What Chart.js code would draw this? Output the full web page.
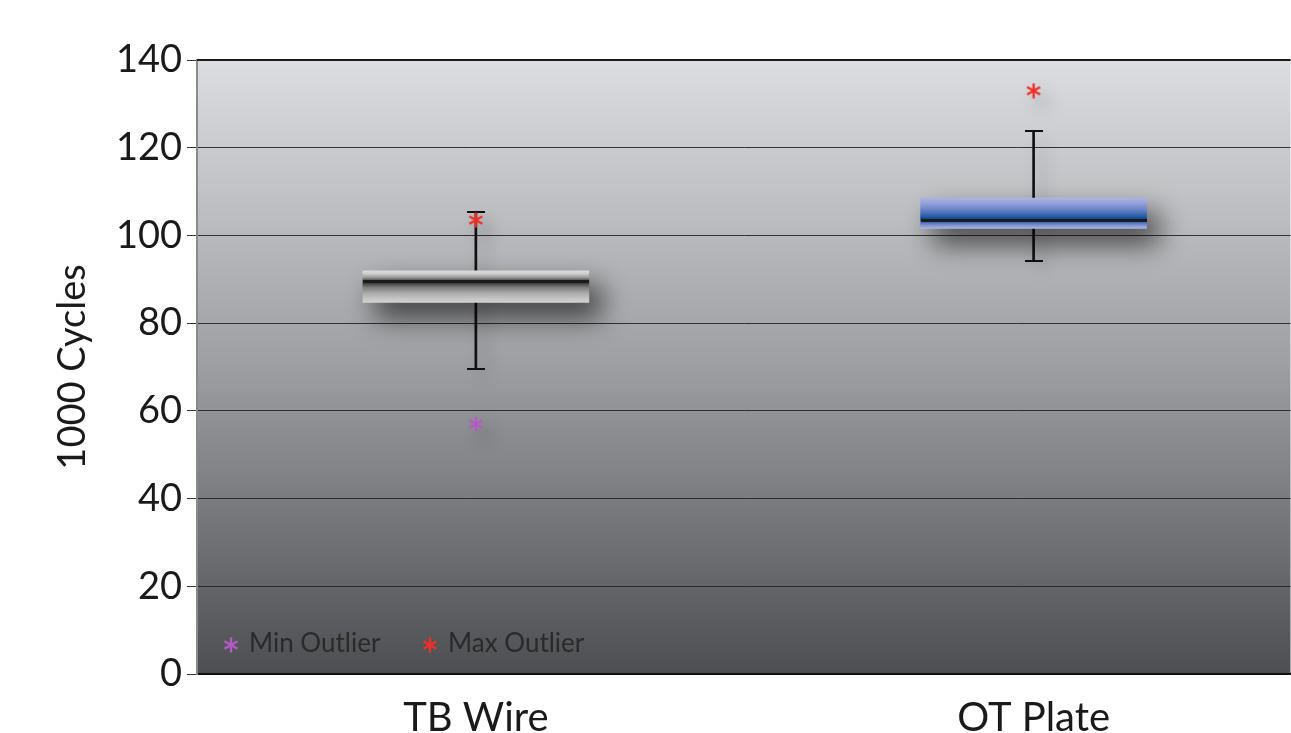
<!DOCTYPE html>
<html>
<head>
<meta charset="utf-8">
<script src="https://cdn.jsdelivr.net/npm/chart.js@4.4.0/dist/chart.umd.min.js"></script>
<style>
  html, body { margin: 0; padding: 0; background: #fff; overflow: hidden; }
  #wrap { position: relative; width: 1291px; height: 733px; }
  .leg { position: absolute; top: 626px; height: 30px; line-height: 30px; font: 26px Lato, sans-serif; color: #2a2a2a; white-space: nowrap; }
  .leg img { width: 16px; height: 16px; vertical-align: -1px; margin-right: 10px; }
</style>
</head>
<body>
<div id="wrap">
  <canvas id="chart" width="1291" height="733"></canvas>
  <div class="leg" id="legMin" style="left:223px"></div>
  <div class="leg" id="legMax" style="left:422px"></div>
</div>
<script>
// дані
const categories = ['TB Wire', 'OT Plate'];
const whiskerLow = [69.5, 94.2];
const q1 = [84.7, 101.6];
const median = [89.4, 103.4];
const q3 = [91.9, 108.5];
const whiskerHigh = [105.3, 123.9];
const minOutliers = [57, null];
const maxOutliers = [103.5, 133];
const yTicks = [0, 20, 40, 60, 80, 100, 120, 140];

// стилі
const boxStops = [
  [[0, '#dadada'], [0.08, '#cfcfcf'], [0.2, '#9c9c9c'], [0.3, '#4e4e4e'], [0.4, '#444'], [0.52, '#7c7c7c'], [0.7, '#aaa'], [0.88, '#c6c6c6'], [1, '#d2d2d2']],
  [[0, '#aab4e3'], [0.2, '#8f9dd7'], [0.45, '#5a78be'], [0.62, '#1d5aa2'], [0.68, '#0e4a94'], [0.78, '#3e64b0'], [0.9, '#8293d2'], [1, '#aab4e3']]
];
const FONT = 'Lato, sans-serif';
const BOX_W = 226;

function makeStar(color) {
  const c = document.createElement('canvas');
  c.width = c.height = 16;
  const g = c.getContext('2d');
  g.strokeStyle = color; g.lineWidth = 2.4;
  g.translate(8, 8);
  for (let k = 0; k < 3; k++) {
    const a = Math.PI / 2 + k * Math.PI / 3;
    g.beginPath();
    g.moveTo(Math.cos(a) * 7.5, Math.sin(a) * 7.5);
    g.lineTo(-Math.cos(a) * 7.5, -Math.sin(a) * 7.5);
    g.stroke();
  }
  return c;
}
// горизонтальна риска (медіана / вуса)
function makeDash(w, h, color) {
  const c = document.createElement('canvas');
  c.width = w; c.height = h;
  const g = c.getContext('2d');
  g.fillStyle = color; g.fillRect(0, 0, w, h);
  return c;
}
const starMin = makeStar('#b45ac4');
const starMax = makeStar('#ee3027');
const medianDash = makeDash(BOX_W, 3, '#1b1b1b');
const capDash = makeDash(18, 2, '#111');

// легенда
document.getElementById('legMin').innerHTML = `<img src="${starMin.toDataURL()}">Min Outlier`;
document.getElementById('legMax').innerHTML = `<img src="${starMax.toDataURL()}">Max Outlier`;

const pts = arr => arr.map((v, i) => ({ x: i, y: v })).filter(p => p.y !== null);

// фон + рамка
const bgPlugin = {
  id: 'bg',
  beforeDraw(chart) {
    const { ctx, chartArea: a } = chart;
    const g = ctx.createLinearGradient(0, a.top, 0, a.bottom);
    g.addColorStop(0, '#dcdde0');
    g.addColorStop(0.5, '#9d9ea1');
    g.addColorStop(1, '#4d4e52');
    ctx.save();
    ctx.fillStyle = g;
    ctx.fillRect(a.left, a.top, a.right - a.left, a.bottom - a.top);
    ctx.restore();
  },
  afterDraw(chart) {
    const { ctx, chartArea: a } = chart;
    ctx.save();
    ctx.strokeStyle = '#1a1a1a'; ctx.lineWidth = 2;
    ctx.beginPath(); ctx.moveTo(a.left, a.top); ctx.lineTo(a.right, a.top); ctx.stroke();
    ctx.restore();
  }
};

// тіні
const shadowPlugin = {
  id: 'shadows',
  beforeDatasetDraw(chart, args) {
    const ctx = chart.ctx;
    const name = args.meta.label;
    if (name === 'box') {
      ctx.save();
      ctx.shadowColor = 'rgba(0,0,0,0.65)'; ctx.shadowBlur = 28; ctx.shadowOffsetX = 12; ctx.shadowOffsetY = 15;
    } else if (name === 'whisker' || name === 'Max Outlier' || name === 'Min Outlier') {
      ctx.save();
      ctx.shadowColor = 'rgba(0,0,0,0.25)'; ctx.shadowBlur = 16; ctx.shadowOffsetX = 8; ctx.shadowOffsetY = 10;
    } else return;
    args.meta._shadowed = true;
  },
  afterDatasetDraw(chart, args) {
    if (args.meta._shadowed) { chart.ctx.restore(); args.meta._shadowed = false; }
  }
};

const pointSet = {
  type: 'line', showLine: false, borderWidth: 0,
  pointRadius: 0.5, pointBorderWidth: 0, pointHoverRadius: 0, pointHoverBorderWidth: 0
};

new Chart(document.getElementById('chart'), {
  type: 'bar',
  data: {
    datasets: [
      { ...pointSet, label: 'Max Outlier', order: 0, data: pts(maxOutliers), pointStyle: starMax },
      { ...pointSet, label: 'Min Outlier', order: 1, data: pts(minOutliers), pointStyle: starMin },
      { ...pointSet, label: 'median', order: 2, data: pts(median), pointStyle: medianDash },
      {
        label: 'box', order: 3, grouped: false, barThickness: BOX_W, borderWidth: 0,
        data: categories.map((c, i) => ({ x: i, y: [q1[i], q3[i]] })),
        backgroundColor: ctx => {
          const chart = ctx.chart;
          if (!chart.chartArea) return '#999';
          const y = chart.scales.y;
          const i = ctx.dataIndex;
          const g = chart.ctx.createLinearGradient(0, y.getPixelForValue(q3[i]), 0, y.getPixelForValue(q1[i]));
          boxStops[i].forEach(s => g.addColorStop(s[0], s[1]));
          return g;
        }
      },
      { ...pointSet, label: 'caps', order: 4, data: pts(whiskerLow).concat(pts(whiskerHigh)), pointStyle: capDash },
      {
        label: 'whisker', order: 5, grouped: false, barThickness: 2, borderWidth: 0,
        data: categories.map((c, i) => ({ x: i, y: [whiskerLow[i], whiskerHigh[i]] })),
        backgroundColor: '#111'
      }
    ]
  },
  options: {
    responsive: false,
    animation: false,
    events: [],
    layout: { padding: { top: 60, left: 0, right: 0, bottom: 0 } },
    plugins: { legend: { display: false }, tooltip: { enabled: false } },
    scales: {
      x: {
        type: 'linear', min: -0.5, max: 1.4606, offset: false,
        afterBuildTicks: s => { s.ticks = categories.map((c, i) => ({ value: i })); },
        afterFit: s => { s.height = 59; },
        grid: { display: false },
        border: { display: true, color: '#111', width: 2 },
        ticks: {
          callback: v => categories[v] || '',
          font: { family: FONT, size: 40 }, color: '#1a1a1a', padding: 12,
          maxRotation: 0
        }
      },
      y: {
        min: 0, max: 140,
        afterBuildTicks: s => { s.ticks = yTicks.map(v => ({ value: v })); },
        afterFit: s => { s.width = 197; },
        grid: { color: 'rgba(35,35,35,0.9)', lineWidth: 1, tickLength: 10, tickColor: '#333', tickWidth: 1 },
        border: { display: true, color: '#8a8a8a', width: 2 },
        ticks: { font: { family: FONT, size: 38 }, color: '#1a1a1a', padding: 5 },
        title: {
          display: true, text: '1000 Cycles', color: '#1a1a1a',
          font: { family: FONT, size: 38, lineHeight: 1.2 }, padding: { top: 50, bottom: 0 }
        }
      }
    }
  },
  plugins: [bgPlugin, shadowPlugin]
});
</script>
</body>
</html>
